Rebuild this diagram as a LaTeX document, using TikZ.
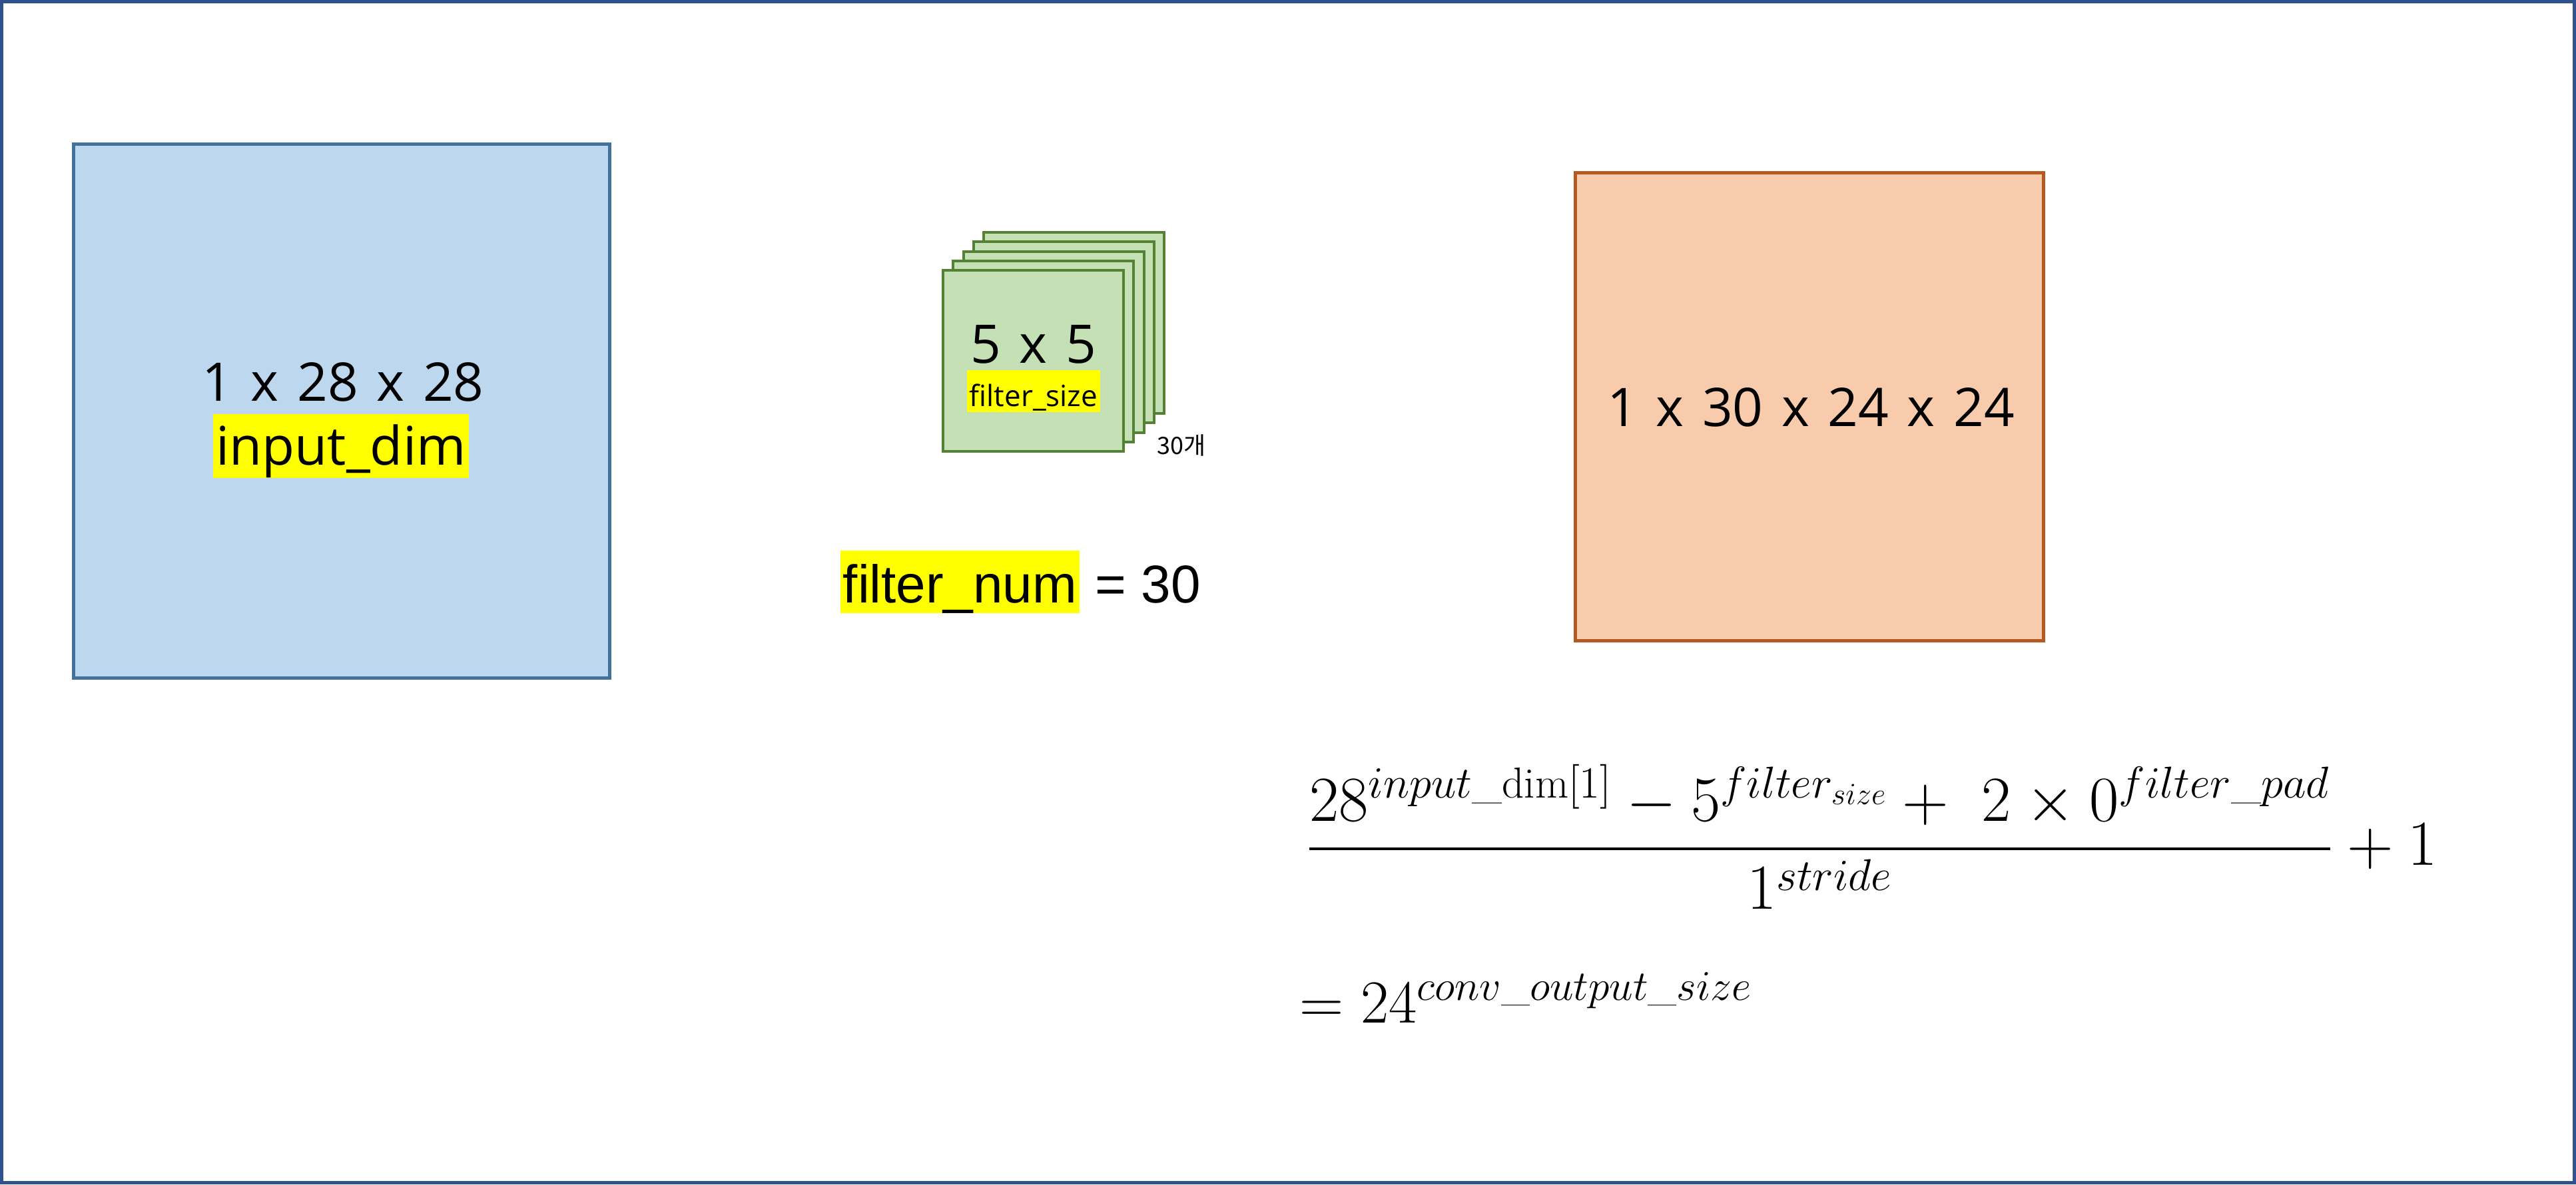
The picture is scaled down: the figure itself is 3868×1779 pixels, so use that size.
\documentclass[tikz,border=0pt]{standalone}
\usepackage{amsmath}
\usepackage{graphicx}
\usepackage{fontspec}
\newfontfamily\mg{Open Sans}
\newfontfamily\kr{Noto Sans CJK KR}
\newfontfamily\ar{Liberation Sans}
\newcommand\widesp{\spaceskip 6.9pt\relax}
\definecolor{framec}{RGB}{47,82,143}
\definecolor{bluefill}{RGB}{189,215,238}
\definecolor{bluedraw}{RGB}{65,113,156}
\definecolor{orfill}{RGB}{248,203,173}
\definecolor{ordraw}{RGB}{180,90,32}
\definecolor{grfill}{RGB}{197,224,180}
\definecolor{grdraw}{RGB}{84,130,53}
\definecolor{hl}{RGB}{255,255,0}
\tikzset{
  bigtxt/.style={font=\mg\fontsize{20}{24}\selectfont\widesp, inner sep=0pt, anchor=base},
  hlbox/.style={fill=hl, inner xsep=1pt, inner ysep=0pt, anchor=base},
  filtersq/.style={draw=grdraw, fill=grfill, line width=1pt},
  mathtxt/.style={inner sep=0pt, anchor=base west, font=\fontsize{24}{28}\selectfont}
}
\begin{document}
\begin{tikzpicture}[x=0.25pt,y=-0.25pt]
\useasboundingbox (0,0) rectangle (3868,1779);
\draw[framec, line width=1.25pt] (2.5,2.5) rectangle (3865.5,1776.5);
% input box
\draw[bluedraw, fill=bluefill, line width=1.25pt] (110.5,216.5) rectangle (915.5,1018.5);
\node[bigtxt] (indims) at (515,602) {1 x 28 x 28};
\node[hlbox, font=\mg\fontsize{20}{24}\selectfont, text height=19pt, text depth=5pt] (inname) at (512,698) {input\_dim};
% filter stack
\foreach \dx/\dy in {61/-57, 46/-43, 31/-28, 15/-14, 0/0} {
  \draw[filtersq] (1416+\dx,406+\dy) rectangle (1687+\dx,678+\dy);
}
\node[bigtxt] (fdims) at (1552,545) {5 x 5};
\node[hlbox, font=\mg\fontsize{11}{13}\selectfont, text height=13.5pt, text depth=2.25pt] (fname) at (1552,610) {filter\_size};
\node[anchor=base west, inner sep=0pt, font=\kr\fontsize{9}{11}\selectfont] (fcount) at (1737,682) {30개};
% filter_num
\node[hlbox, anchor=base west, font=\ar\fontsize{20}{24}\selectfont, text height=19.5pt, text depth=4pt] (fnum) at (1261,905) {filter\_num};
\node[anchor=base west, inner sep=0pt, font=\ar\fontsize{20}{24}\selectfont] (fnumv) at (fnum.base east) {\ = 30};
% output box
\draw[ordraw, fill=orfill, line width=1.25pt] (2365.5,259.5) rectangle (3068.5,962.5);
\node[bigtxt] (outdims) at (2719,640) {1 x 30 x 24 x 24};
% formula
\node[mathtxt] (formula) at (1961,1299) {\scalebox{0.969}{$\displaystyle \frac{28^{input\_\mathrm{dim}[1]} - 5^{filter_{size}} +\ 2\times 0^{filter\_pad}}{1^{stride}}+1$}};
\node[mathtxt] (result) at (1951,1536) {\scalebox{0.923}{$= 24^{conv\_output\_size}$}};
\end{tikzpicture}
\end{document}
